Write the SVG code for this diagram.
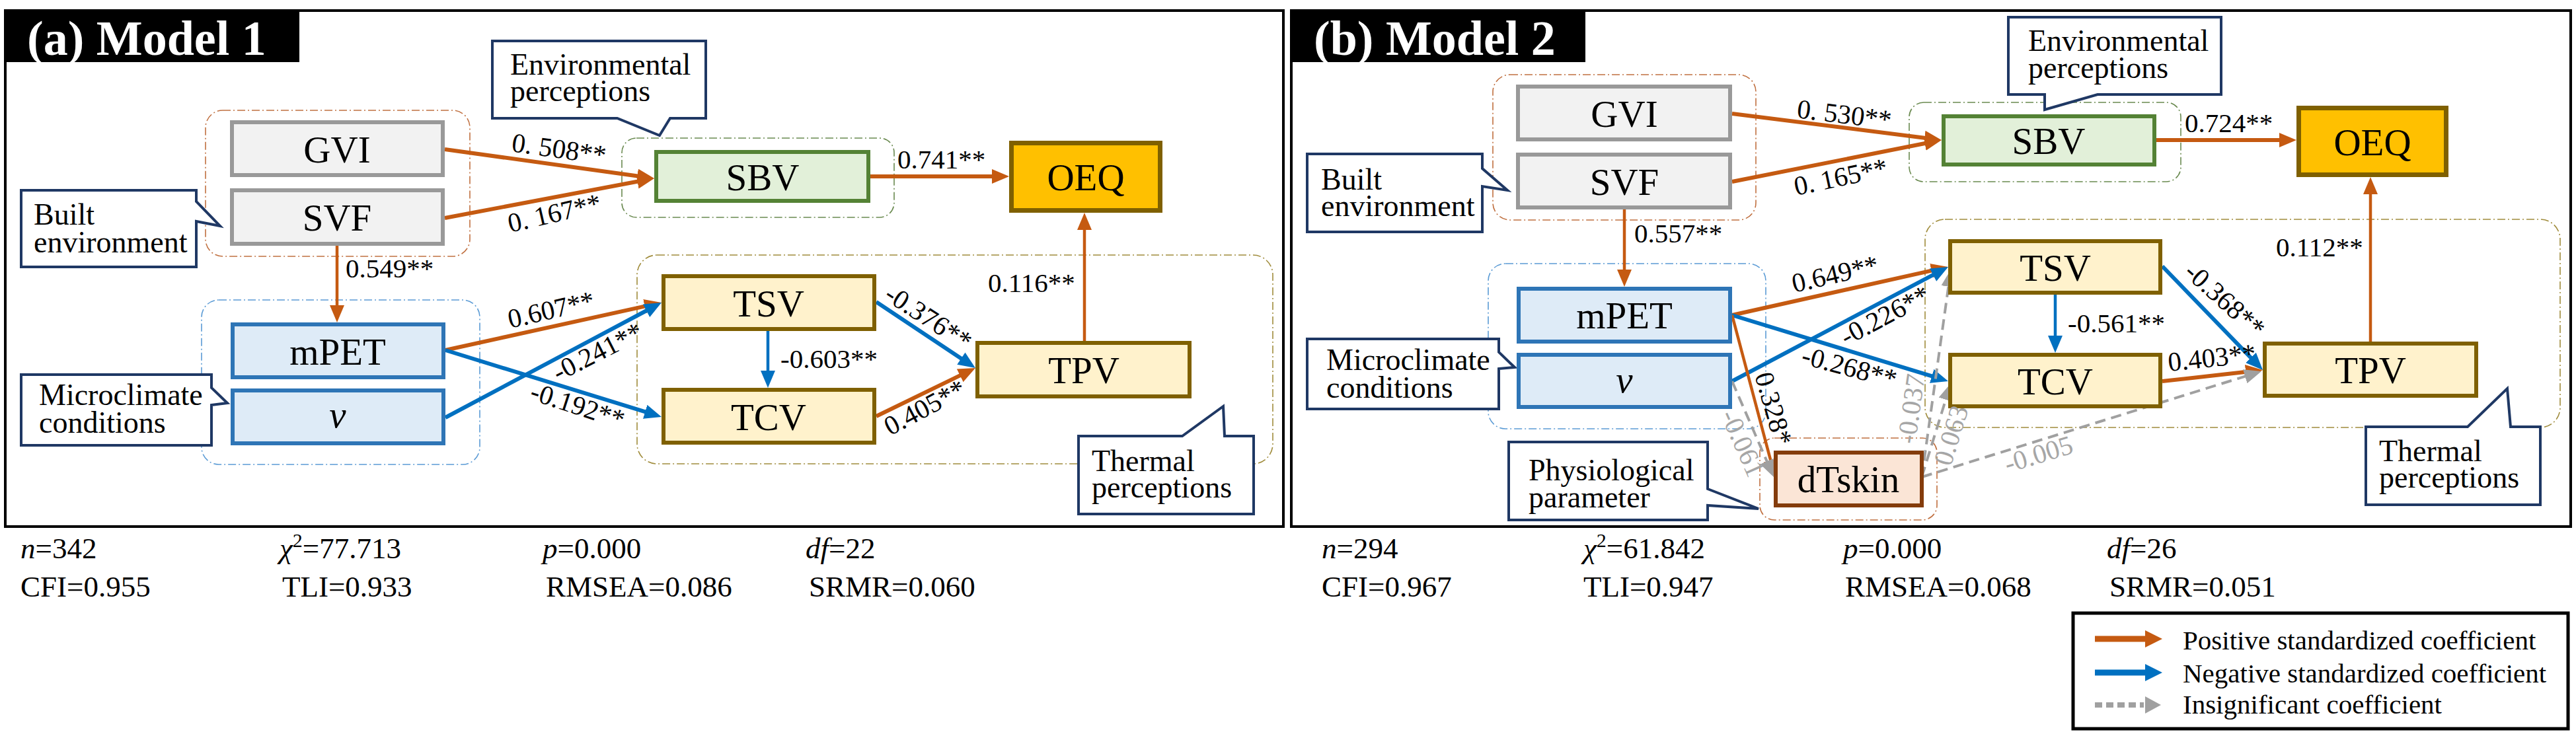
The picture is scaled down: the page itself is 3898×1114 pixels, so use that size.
<svg xmlns="http://www.w3.org/2000/svg" width="3898" height="1114" viewBox="0 0 3898 1114">
<style>
text{font-family:"Liberation Serif","Times New Roman",serif;fill:#000}
.nt{font-size:57px;text-anchor:middle}
.ct{font-size:46px}
.lb{font-size:41px}
.lg{font-size:41px;fill:#A6A6A6}
.st{font-size:45px}
.tt{font-size:74px;font-weight:bold;fill:#fff}
.frame{fill:#fff;stroke:#000;stroke-width:4}
.gray rect{fill:#F2F2F2;stroke:#999;stroke-width:6}
.blue rect{fill:#DEEBF7;stroke:#2E75B6;stroke-width:6}
.green rect{fill:#E2F0D9;stroke:#548235;stroke-width:6}
.gold rect{fill:#FFC000;stroke:#7F6000;stroke-width:7}
.tan rect{fill:#FFF2CC;stroke:#7F6000;stroke-width:6}
.skin rect{fill:#FBE5D6;stroke:#843C0C;stroke-width:6}
.cl{fill:none;stroke-width:1.6;stroke-dasharray:12 4 2 4}
.co path{fill:#fff;stroke:#1F3864;stroke-width:4;stroke-linejoin:miter}
.po{stroke:#C55A11;stroke-width:6;fill:none;marker-end:url(#ao)}
.ne{stroke:#0070C0;stroke-width:6;fill:none;marker-end:url(#ab)}
.in{stroke:#A0A0A0;stroke-width:4;fill:none;stroke-dasharray:16 9;marker-end:url(#ag)}
.thin{stroke-width:4.5}
</style>
<defs>
<marker id="ao" markerUnits="userSpaceOnUse" markerWidth="26" markerHeight="22" refX="8" refY="11" orient="auto"><path d="M0,0 L26,11 L0,22 Z" fill="#C55A11"/></marker>
<marker id="ab" markerUnits="userSpaceOnUse" markerWidth="26" markerHeight="22" refX="8" refY="11" orient="auto"><path d="M0,0 L26,11 L0,22 Z" fill="#0070C0"/></marker>
<marker id="ag" markerUnits="userSpaceOnUse" markerWidth="26" markerHeight="22" refX="8" refY="11" orient="auto"><path d="M0,0 L26,11 L0,22 Z" fill="#A0A0A0"/></marker>
</defs>
<rect width="3898" height="1114" fill="#fff"/>

<!-- frames -->
<g id="frames">
<rect class="frame" x="8" y="16" width="1934" height="781"/>
<rect class="frame" x="1954" y="16" width="1936" height="781"/>
<rect x="8" y="16" width="445" height="78" fill="#000"/>
<rect x="1954" y="16" width="445" height="78" fill="#000"/>
<text class="tt" x="41" y="83">(a) Model 1</text>
<text class="tt" x="1988" y="83">(b) Model 2</text>
</g>

<!-- cluster outlines -->
<g id="clusters">
<rect class="cl" x="311" y="167" width="400" height="221" rx="26" stroke="#C07040"/>
<rect class="cl" x="941" y="209" width="412" height="120" rx="22" stroke="#6A8A50"/>
<rect class="cl" x="305" y="454" width="421" height="249" rx="26" stroke="#5B9BD5"/>
<rect class="cl" x="964" y="386" width="962" height="316" rx="30" stroke="#A08C3C"/>
<rect class="cl" x="2259" y="113" width="398" height="220" rx="26" stroke="#C07040"/>
<rect class="cl" x="2889" y="155" width="411" height="120" rx="22" stroke="#6A8A50"/>
<rect class="cl" x="2252" y="399" width="420" height="250" rx="26" stroke="#5B9BD5"/>
<rect class="cl" x="2913" y="332" width="961" height="315" rx="30" stroke="#A08C3C"/>
<rect class="cl" x="2663" y="663" width="268" height="124" rx="22" stroke="#C07040"/>
</g>

<!-- callouts -->
<g id="callout-env-1" class="co"><path d="M745,62 H1068 V179 H1014 L998,205 L934,179 H745 Z"/><text class="ct" x="772" y="113">Environmental</text><text class="ct" x="772" y="153">perceptions</text></g>
<g id="callout-built-1" class="co"><path d="M32,288 H297 V305 L333,342 L297,335 V404 H32 Z"/><text class="ct" x="51" y="340">Built</text><text class="ct" x="51" y="382">environment</text></g>
<g id="callout-micro-1" class="co"><path d="M32,567 H320 V587 L344,610 L320,613 V674 H32 Z"/><text class="ct" x="59" y="613">Microclimate</text><text class="ct" x="59" y="655">conditions</text></g>
<g id="callout-thermal-1" class="co"><path d="M1632,660 H1789 L1851,615 L1853,660 H1897 V778 H1632 Z"/><text class="ct" x="1652" y="713">Thermal</text><text class="ct" x="1652" y="753">perceptions</text></g>

<g id="callout-env-2" class="co"><path d="M3039,26 H3361 V143 H3174 L3094,166 V143 H3039 Z"/><text class="ct" x="3069" y="77">Environmental</text><text class="ct" x="3069" y="118">perceptions</text></g>
<g id="callout-built-2" class="co"><path d="M1978,233 H2243 V255 L2281,288 L2243,282 V351 H1978 Z"/><text class="ct" x="1999" y="287">Built</text><text class="ct" x="1999" y="327">environment</text></g>
<g id="callout-micro-2" class="co"><path d="M1978,513 H2268 V533 L2292,556 L2268,558 V619 H1978 Z"/><text class="ct" x="2007" y="560">Microclimate</text><text class="ct" x="2007" y="602">conditions</text></g>
<g id="callout-physio-2" class="co"><path d="M2283,669 H2584 V740 L2661,770 L2584,765 V787 H2283 Z"/><text class="ct" x="2313" y="727">Physiological</text><text class="ct" x="2313" y="768">parameter</text></g>
<g id="callout-thermal-2" class="co"><path d="M3580,646 H3734 L3794,588 L3799,646 H3844 V764 H3580 Z"/><text class="ct" x="3600" y="698">Thermal</text><text class="ct" x="3600" y="738">perceptions</text></g>

<!-- connectors -->
<g id="connectors">
<line class="po" x1="673" y1="226" x2="972.2" y2="267.5"/>
<line class="po" x1="673" y1="330" x2="972.3" y2="273.3"/>
<line class="po" x1="1317" y1="267" x2="1509" y2="267"/>
<line class="po thin" x1="510" y1="372" x2="510" y2="470"/>
<line class="po" x1="674" y1="530" x2="983.4" y2="461.9"/>
<line class="ne" x1="674" y1="632" x2="985.1" y2="466.5"/>
<line class="ne" x1="674" y1="530" x2="983.8" y2="625.7"/>
<line class="ne thin" x1="1162" y1="501" x2="1162" y2="569"/>
<line class="ne" x1="1326" y1="457" x2="1461" y2="547"/>
<line class="po" x1="1326" y1="630" x2="1459.8" y2="564.9"/>
<line class="po thin" x1="1641" y1="516" x2="1641" y2="340"/>

<line class="po" x1="2621" y1="172" x2="2920.1" y2="209.7"/>
<line class="po" x1="2621" y1="275" x2="2920.3" y2="215.5"/>
<line class="po" x1="3263" y1="212" x2="3457" y2="212"/>
<line class="po thin" x1="2458" y1="317" x2="2458" y2="416"/>
<line class="po" x1="2621" y1="477" x2="2930.4" y2="407.9"/>
<line class="ne" x1="2621" y1="577" x2="2932.1" y2="412.4"/>
<line class="ne" x1="2621" y1="477" x2="2930.8" y2="571.7"/>
<line class="po thin" x1="2621" y1="477" x2="2681.4" y2="704.6"/>
<line class="in" x1="2621" y1="577" x2="2676.8" y2="705.5"/>
<line class="ne thin" x1="3110" y1="446" x2="3110" y2="516"/>
<line class="ne" x1="3272" y1="403" x2="3411.5" y2="547.1"/>
<line class="po" x1="3272" y1="577" x2="3406.1" y2="562"/>
<line class="po thin" x1="3587" y1="517" x2="3587" y2="286"/>
<line class="in" x1="2908" y1="722" x2="2949.5" y2="425.8"/>
<line class="in" x1="2908" y1="722" x2="2946.7" y2="597.2"/>
<line class="in" x1="2908" y1="722" x2="3404.8" y2="567.3"/>
</g>

<!-- nodes Model 1 -->
<g id="m1-GVI" class="gray"><rect x="351" y="185" width="319" height="80"/><text class="nt" x="510" y="246">GVI</text></g>
<g id="m1-SVF" class="gray"><rect x="351" y="288" width="319" height="81"/><text class="nt" x="510" y="349">SVF</text></g>
<g id="m1-mPET" class="blue"><rect x="352" y="491" width="319" height="80"/><text class="nt" x="511" y="552">mPET</text></g>
<g id="m1-v" class="blue"><rect x="352" y="591" width="319" height="80"/><text class="nt" x="511" y="647" font-style="italic">v</text></g>
<g id="m1-SBV" class="green"><rect x="993" y="230" width="321" height="74"/><text class="nt" x="1154" y="288">SBV</text></g>
<g id="m1-OEQ" class="gold"><rect x="1530.5" y="216.5" width="225" height="102"/><text class="nt" x="1643" y="288">OEQ</text></g>
<g id="m1-TSV" class="tan"><rect x="1004" y="418" width="319" height="80"/><text class="nt" x="1163" y="479">TSV</text></g>
<g id="m1-TCV" class="tan"><rect x="1004" y="590" width="319" height="80"/><text class="nt" x="1163" y="651">TCV</text></g>
<g id="m1-TPV" class="tan"><rect x="1479" y="519" width="321" height="81"/><text class="nt" x="1640" y="580">TPV</text></g>

<!-- nodes Model 2 -->
<g id="m2-GVI" class="gray"><rect x="2297" y="131" width="321" height="80"/><text class="nt" x="2458" y="192">GVI</text></g>
<g id="m2-SVF" class="gray"><rect x="2297" y="234" width="321" height="80"/><text class="nt" x="2458" y="295">SVF</text></g>
<g id="m2-mPET" class="blue"><rect x="2298" y="437" width="320" height="80"/><text class="nt" x="2458" y="497">mPET</text></g>
<g id="m2-v" class="blue"><rect x="2298" y="537" width="320" height="79"/><text class="nt" x="2458" y="594" font-style="italic">v</text></g>
<g id="m2-SBV" class="green"><rect x="2941" y="176" width="319" height="73"/><text class="nt" x="3100" y="233">SBV</text></g>
<g id="m2-OEQ" class="gold"><rect x="3478.5" y="163.5" width="223" height="101"/><text class="nt" x="3590" y="235">OEQ</text></g>
<g id="m2-TSV" class="tan"><rect x="2951" y="365" width="318" height="78"/><text class="nt" x="3110" y="425">TSV</text></g>
<g id="m2-TCV" class="tan"><rect x="2951" y="537" width="318" height="78"/><text class="nt" x="3110" y="597">TCV</text></g>
<g id="m2-TPV" class="tan"><rect x="3427" y="520" width="320" height="79"/><text class="nt" x="3587" y="580">TPV</text></g>
<g id="m2-dTskin" class="skin"><rect x="2687" y="685" width="221" height="80"/><text class="nt" x="2797" y="745">dTskin</text></g>

<!-- coefficient labels -->
<g id="labels">
<text class="lb" transform="translate(773,229) rotate(8)">0. 508**</text>
<text class="lb" transform="translate(772,352) rotate(-13)">0. 167**</text>
<text class="lb" x="523" y="420">0.549**</text>
<text class="lb" x="1358" y="255">0.741**</text>
<text class="lb" transform="translate(772,497) rotate(-13)">0.607**</text>
<text class="lb" transform="translate(845,578) rotate(-27)">-0.241**</text>
<text class="lb" transform="translate(800,604) rotate(18)">-0.192**</text>
<text class="lb" x="1181" y="557">-0.603**</text>
<text class="lb" transform="translate(1336,452) rotate(33)">-0.376**</text>
<text class="lb" transform="translate(1347,660) rotate(-28)">0.405**</text>
<text class="lb" x="1495" y="442">0.116**</text>

<text class="lb" transform="translate(2718,178) rotate(7)">0. 530**</text>
<text class="lb" transform="translate(2718,296) rotate(-12)">0. 165**</text>
<text class="lb" x="2473" y="367">0.557**</text>
<text class="lb" x="3306" y="200">0.724**</text>
<text class="lb" transform="translate(2715,443) rotate(-13)">0.649**</text>
<text class="lb" transform="translate(2794,524) rotate(-28)">-0.226**</text>
<text class="lb" transform="translate(2724,550) rotate(15)">-0.268**</text>
<text class="lb" transform="translate(2655,568) rotate(74)">0.328*</text>
<text class="lg" transform="translate(2603,628) rotate(66)">-0.061</text>
<text class="lg" transform="translate(2898,673) rotate(-82)">-0.037</text>
<text class="lg" transform="translate(2952,707) rotate(-73)">0.063</text>
<text class="lg" transform="translate(3038,716) rotate(-17)">-0.005</text>
<text class="lb" x="3129" y="503">-0.561**</text>
<text class="lb" transform="translate(3303,415) rotate(42)">-0.368**</text>
<text class="lb" transform="translate(3282,562) rotate(-6)">0.403**</text>
<text class="lb" x="3444" y="388">0.112**</text>
</g>

<!-- fit statistics -->
<g id="stats">
<text class="st" x="31" y="845"><tspan font-style="italic">n</tspan>=342</text>
<text class="st" x="423" y="845"><tspan font-style="italic">χ</tspan><tspan dy="-17" font-size="30">2</tspan><tspan dy="17">=77.713</tspan></text>
<text class="st" x="821" y="845"><tspan font-style="italic">p</tspan>=0.000</text>
<text class="st" x="1219" y="845"><tspan font-style="italic">df</tspan>=22</text>
<text class="st" x="31" y="903">CFI=0.955</text>
<text class="st" x="427" y="903">TLI=0.933</text>
<text class="st" x="826" y="903">RMSEA=0.086</text>
<text class="st" x="1224" y="903">SRMR=0.060</text>

<text class="st" x="2000" y="845"><tspan font-style="italic">n</tspan>=294</text>
<text class="st" x="2396" y="845"><tspan font-style="italic">χ</tspan><tspan dy="-17" font-size="30">2</tspan><tspan dy="17">=61.842</tspan></text>
<text class="st" x="2789" y="845"><tspan font-style="italic">p</tspan>=0.000</text>
<text class="st" x="3188" y="845"><tspan font-style="italic">df</tspan>=26</text>
<text class="st" x="2000" y="903">CFI=0.967</text>
<text class="st" x="2396" y="903">TLI=0.947</text>
<text class="st" x="2792" y="903">RMSEA=0.068</text>
<text class="st" x="3192" y="903">SRMR=0.051</text>
</g>

<!-- legend -->
<g id="legend">
<rect x="3137" y="928" width="749" height="175" fill="#fff" stroke="#000" stroke-width="5"/>
<line x1="3170" y1="967" x2="3248" y2="967" stroke="#C55A11" stroke-width="9"/>
<polygon points="3246,954 3272,967 3246,980" fill="#C55A11"/>
<text class="lb" x="3303" y="983">Positive standardized coefficient</text>
<line x1="3170" y1="1018" x2="3248" y2="1018" stroke="#0070C0" stroke-width="9"/>
<polygon points="3246,1005 3272,1018 3246,1031" fill="#0070C0"/>
<text class="lb" x="3303" y="1033">Negative standardized coefficient</text>
<line x1="3170" y1="1067" x2="3244" y2="1067" stroke="#A0A0A0" stroke-width="8" stroke-dasharray="11 6"/>
<polygon points="3246,1054 3270,1067 3246,1080" fill="#A0A0A0"/>
<text class="lb" x="3303" y="1080">Insignificant coefficient</text>
</g>
</svg>
